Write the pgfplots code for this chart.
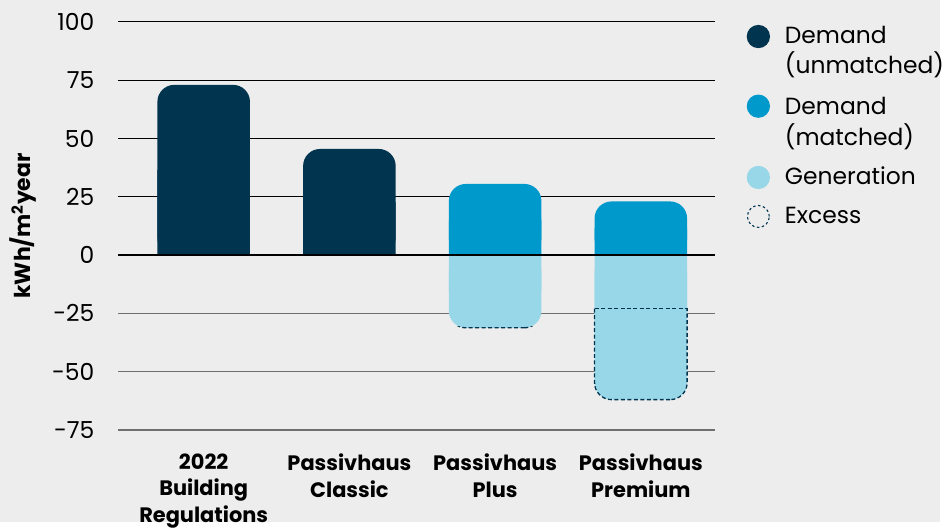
\documentclass[border=0pt]{standalone}
\usepackage{pgfplots}
\pgfplotsset{compat=1.18}
\usepackage{fontspec}
\setmainfont{Poppins}
\definecolor{navy}{HTML}{00344F}
\definecolor{midblue}{HTML}{0099CB}
\definecolor{lightblue}{HTML}{97D7E8}
\definecolor{bg}{HTML}{EDEDED}
\definecolor{gridgrey}{HTML}{707070}
\begin{document}
\begin{tikzpicture}
\fill[bg] (-119pt,-93pt) rectangle (825pt,432pt);
\begin{axis}[
  at={(0pt,0pt)}, anchor=south west,
  scale only axis, width=599pt, height=410pt,
  xmin=-0.585, xmax=3.506, ymin=-75, ymax=100,
  axis line style={draw=none},
  major tick length=0pt,
  ytick={0,25,50,75,100},
  extra y ticks={-25,-50,-75},
  ymajorgrids=true,
  grid style={black, line width=1pt},
  extra y tick style={ymajorgrids=true, grid style={gridgrey, line width=1.5pt}},
  xtick={0,1,2,3},
  xticklabels={{2022\\Building\\Regulations},{Passivhaus\\Classic},{Passivhaus\\Plus},{Passivhaus\\Premium}},
  xticklabel style={font=\bfseries\fontsize{21}{26.5}\selectfont, align=center, text width=140pt, anchor=north, inner sep=0pt, yshift=-24pt},
  yticklabel style={font=\fontsize{23.5}{28}\selectfont, anchor=east, inner sep=0pt, xshift=-24pt},
  /pgf/number format/assume math mode=true,
  ylabel={kWh/m\textsuperscript{2}year},
  every axis y label/.style={at={(axis description cs:0,0.5)}, xshift=-96pt, rotate=90, anchor=center, font=\bfseries\fontsize{22}{26}\selectfont},
  ybar, bar width=93pt,
  clip=false,
]
% Demand (unmatched)
\addplot[fill=navy, draw=none, bar shift=0pt, rounded corners=17pt] coordinates {(0,73) (1,45.5)};
\addplot[fill=navy, draw=none, bar shift=0pt, y filter/.expression={y/2}] coordinates {(0,73) (1,45.5)};
% Demand (matched)
\addplot[fill=midblue, draw=none, bar shift=0pt, rounded corners=17pt] coordinates {(2,30.5) (3,23)};
\addplot[fill=midblue, draw=none, bar shift=0pt, y filter/.expression={y/2}] coordinates {(2,30.5) (3,23)};
% Generation
\addplot[fill=lightblue, draw=none, bar shift=0pt, rounded corners=17pt] coordinates {(2,-31.2) (3,-62)};
\addplot[fill=lightblue, draw=none, bar shift=0pt, y filter/.expression={y/2}] coordinates {(2,-31.2) (3,-62)};
% Excess outline: generation outline below the matched demand
\begin{scope}
\clip (axis cs:1.5,-30.5) rectangle (axis cs:2.5,-80);
\addplot[fill=none, draw=navy, dash pattern=on 4pt off 2.5pt, line width=1.3pt, bar shift=0pt, rounded corners=17pt] coordinates {(2,-31.2)};
\end{scope}
\begin{scope}
\clip (axis cs:2.5,-23) rectangle (axis cs:3.5,-80);
\addplot[fill=none, draw=navy, dash pattern=on 4pt off 2.5pt, line width=1.3pt, bar shift=0pt, rounded corners=17pt] coordinates {(3,-62)};
\end{scope}
\addplot[sharp plot, navy, dash pattern=on 4pt off 2.5pt, line width=1.3pt, mark=none] coordinates {(2.683,-23) (3.317,-23)};
\draw[black, line width=2pt] (axis cs:-0.585,0) -- (axis cs:3.506,0);
\end{axis}
% legend
\begin{scope}[every node/.style={anchor=base west, inner sep=0pt, font=\fontsize{23.5}{28}\selectfont}]
\fill[navy] (643pt,395.3pt) circle (11.7pt);
\node at (669.5pt,388.7pt) {Demand};
\node at (669.5pt,358pt) {(unmatched)};
\fill[midblue] (643pt,325.3pt) circle (11.7pt);
\node at (669.5pt,317pt) {Demand};
\node at (669.5pt,285.3pt) {(matched)};
\fill[lightblue] (643pt,253.7pt) circle (11.7pt);
\node at (669.5pt,247pt) {Generation};
\draw[navy, dash pattern=on 2.5pt off 2.5pt, line width=1.1pt] (643pt,214.5pt) circle (11pt);
\node at (669.5pt,207pt) {Excess};
\end{scope}
\end{tikzpicture}
\end{document}
